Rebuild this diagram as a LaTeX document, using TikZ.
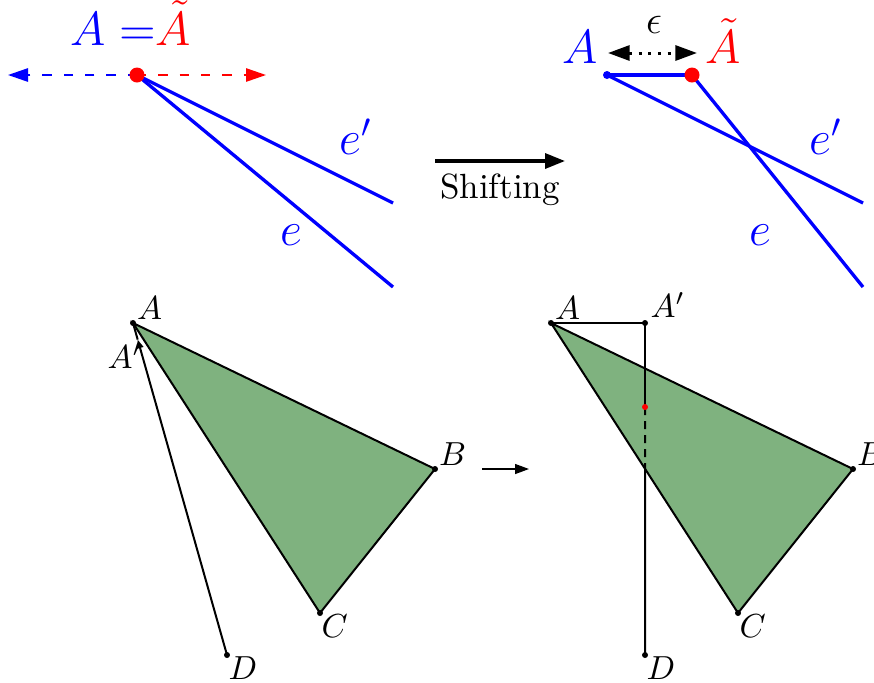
\documentclass[tikz,border=0pt]{standalone}
\usepackage{amsmath}
\usepackage{xcolor}
\usetikzlibrary{arrows.meta,calc}

\definecolor{triGreen}{RGB}{127,178,127}

\begin{document}
\begin{tikzpicture}[
      x=0.3pt, y=-0.3pt,
      edge/.style={blue, line width=1pt},
      seg/.style={semithick},
      lbl/.style={inner sep=1pt, font=\normalsize},
      bigl/.style={font=\Large, anchor=base},
      dasharr/.style={line width=0.5pt, dash pattern=on 2.8pt off 3.6pt,
                      -{Triangle[length=6pt, width=4pt]}},
      epsarr/.style={line width=0.9pt, dotted,
                     {Triangle[length=6.5pt, width=4.5pt]}-{Triangle[length=6.5pt, width=4.5pt]}},
      arr/.style={-{Triangle[length=6pt, width=4.5pt]}, line width=1pt}
    ]
    \useasboundingbox (0,0) rectangle (874,682);

    % before shifting
    \coordinate (T) at (137,75);
    \coordinate (Tl) at (8,75);
    \coordinate (Tr) at (266,75);
    \coordinate (Tep) at (393,203);
    \coordinate (Te) at (393,287);
    \draw[dasharr, blue] (T) -- (Tl);
    \draw[dasharr, red] (T) -- (Tr);
    \draw[edge] (T) -- (Tep);
    \draw[edge] (T) -- (Te);
    \fill[red] (T) circle (2.25pt);
    \node[bigl, font=\fontsize{13.5pt}{16pt}\selectfont] (eqA) at (131,45)
      {\textcolor{blue}{$A =$}\textcolor{red}{$\tilde{A}$}};
    \node[bigl, blue, anchor=center] (lEp) at (356,137) {$e'$};
    \node[bigl, blue, anchor=center] (lE) at (291,235) {$e$};

    % shifting arrow
    \coordinate (s1) at (435,161);
    \coordinate (s2) at (565,161);
    \draw[arr] (s1) -- (s2) node[midway, below, font=\fontsize{10.5pt}{12pt}\selectfont] (shl) {Shifting};

    % after shifting
    \coordinate (Ra) at (607,75);
    \coordinate (Rt) at (692,75);
    \coordinate (Rep) at (863,203);
    \coordinate (Re) at (863,287);
    \draw[edge] (Ra) -- (Rt);
    \draw[edge] (Ra) -- (Rep);
    \draw[edge] (Rt) -- (Re);
    \fill[blue] (Ra) circle (1.2pt);
    \fill[red] (Rt) circle (2.25pt);
    \node[bigl, blue] (lRa) at (580,63) {$A$};
    \node[bigl, red] (lRt) at (723,63) {$\tilde{A}$};
    \coordinate (epsL) at (608,53);
    \coordinate (epsR) at (697,53);
    \draw[epsarr] (epsL) -- (epsR);
    \node[font=\large, anchor=base] (eps) at (654,33) {$\epsilon$};
    \node[bigl, blue, anchor=center] (lRep) at (826,137) {$e'$};
    \node[bigl, blue, anchor=center] (lRe) at (760,235) {$e$};

    % triangle, left
    \coordinate[label={[lbl,anchor=south west]right:$A$}] (A) at (133,323);
    \coordinate[label={[lbl,anchor=south west]right:$B$}] (B) at (435,469);
    \coordinate[label={[lbl,anchor=north west,inner sep=0.3pt]right:$C$}] (C) at (320,613);
    \coordinate[label={[lbl,anchor=north west,inner sep=0.3pt]right:$D$}] (D) at (227,655);
    \coordinate[label={[lbl,anchor=north east,inner sep=0pt,xshift=1.5pt,yshift=-1pt]left:$A'$}] (Ap) at ($(A)!0.05!(D)$);
    \fill[triGreen] (A) -- (B) -- (C) -- cycle;
    \draw[seg] (A) -- (B) -- (C) -- cycle;
    \draw[seg, -{Triangle[length=2.6pt, width=2pt]}] (D) -- (Ap);
    \draw[seg] (Ap) -- (A);
    \foreach \p in {A,B,C,D}
      \fill (\p) circle (0.9pt);

    % middle arrow
    \coordinate (m1) at (482,469);
    \coordinate (m2) at (529,469);
    \draw[-{Triangle[length=4.2pt, width=3pt]}] (m1) -- (m2);

    % triangle, right
    \coordinate[label={[lbl,anchor=south west]right:$A$}] (A2) at (551,323);
    \coordinate[label={[lbl,anchor=south west]right:$B$}] (B2) at (853,469);
    \coordinate[label={[lbl,anchor=north west,inner sep=0.3pt]right:$C$}] (C2) at (738,613);
    \coordinate[label={[lbl,anchor=north west,inner sep=0.3pt]right:$D$}] (D2) at (645,655);
    \coordinate[label={[lbl,anchor=south west,inner sep=1.5pt]right:$A'$}] (Ap2) at (645,323);
    \coordinate (M2) at (645,407);
    \coordinate (X2) at (intersection of A2--C2 and Ap2--D2);
    \fill[triGreen] (A2) -- (B2) -- (C2) -- cycle;
    \draw[seg] (A2) -- (B2) -- (C2) -- cycle;
    \draw[seg] (A2) -- (Ap2) -- (M2);
    \draw[seg, dash pattern=on 2.4pt off 1.8pt] (M2) -- (X2);
    \draw[seg] (X2) -- (D2);
    \foreach \p in {A2,B2,C2,D2,Ap2}
      \fill (\p) circle (0.9pt);
    \fill[red] (M2) circle (0.9pt);
  \end{tikzpicture}
\end{document}
